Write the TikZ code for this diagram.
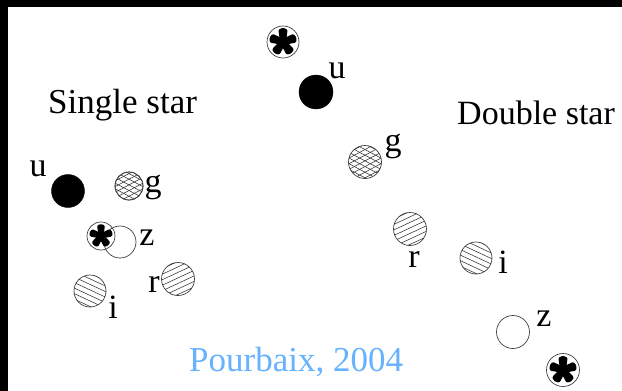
\documentclass[tikz,border=0pt]{standalone}
\usepackage{fontspec}
\setmainfont{Liberation Serif}
\usetikzlibrary{calc}
\definecolor{refblue}{RGB}{102,178,255}
\newcommand\hatchfam[4]{% node, radius, angle, spacing
  \begin{scope}
    \clip (#1) circle[radius=#2pt];
    \foreach \d in {-24,-19,...,24}
      \draw[line width=0.55pt, black!80]
        ($(#1)+(#3+90:\d pt)+(#3:26pt)$) -- ($(#1)+(#3+90:\d pt)+(#3+180:26pt)$);
  \end{scope}}
\begin{document}
\begin{tikzpicture}[x=1pt,y=-1pt,
  lbl/.style={font=\fontsize{34}{40}\selectfont, inner sep=0pt, anchor=base},
  head/.style={font=\fontsize{35}{42}\selectfont, inner sep=0pt, anchor=base west},
  ring/.style={circle, inner sep=0pt, minimum size=#1, draw=black!75, line width=0.7pt},
  ring/.default=33pt,
  dot/.style={circle, inner sep=0pt, minimum size=#1, fill=black, draw=black},
  dot/.default=34pt,
  astk/.pic={
    \foreach \a in {90,18,162,234,306}
      \fill[black, rotate=\a, rounded corners=1.2pt] (0,-3) -- (12.4,-4.6) -- (14.2,0) -- (12.4,4.6) -- (0,3) -- cycle;
    \fill[black] (0,0) circle[radius=4pt];}
]
\useasboundingbox (0,0) rectangle (622,391);
\fill[black] (0,0) rectangle (622,391);
\fill[white] (8,7) rectangle (622,391);

% headings
\node[head] (single) at (48,113) {Single star};
\node[head, font=\fontsize{34}{40}\selectfont] (double) at (457,124) {Double star};
\node[head, text=refblue] (cite) at (189,371) {Pourbaix, 2004};

% single star
\node[dot=33pt] (su) at (68,191) {};
\node[ring=28pt] (sg) at (129,186) {};
\hatchfam{sg}{14}{28}{}
\hatchfam{sg}{14}{-28}{}
\node[ring=28pt] at (sg) {};
\node[ring=32pt] (sz) at (120,242) {};
\node[ring=28pt] (ss) at (101,236) {};
\pic[scale=0.85] at (ss) {astk};
\node[ring=33pt] (sr) at (178,279) {};
\hatchfam{sr}{16.5}{25}{}
\node[ring=32pt] (si) at (90,291) {};
\hatchfam{si}{16}{-25}{}

\node[lbl] (sul) at (38,176) {u};
\node[lbl] (sgl) at (153,192) {g};
\node[lbl] (szl) at (147,245) {z};
\node[lbl] (srl) at (154,292) {r};
\node[lbl] (sil) at (113,318) {i};

% double star
\node[ring=32pt] (ds1) at (283,42) {};
\pic at (ds1) {astk};
\node[dot=34pt] (du) at (316,92) {};
\node[ring=33pt] (dg) at (365,162) {};
\hatchfam{dg}{16.5}{28}{}
\hatchfam{dg}{16.5}{-28}{}
\node[ring=33pt] (dr) at (410,229) {};
\hatchfam{dr}{16.5}{25}{}
\node[ring=32pt] (di) at (476,258) {};
\hatchfam{di}{16}{-25}{}
\node[ring=33pt] (dz) at (513,332) {};
\node[ring=33pt] (ds2) at (563,370) {};
\pic at (ds2) {astk};

\node[lbl] (dul) at (337,78) {u};
\node[lbl] (dgl) at (393,151) {g};
\node[lbl] (drl) at (414,267) {r};
\node[lbl] (dil) at (503,273) {i};
\node[lbl] (dzl) at (544,326) {z};
\end{tikzpicture}
\end{document}
